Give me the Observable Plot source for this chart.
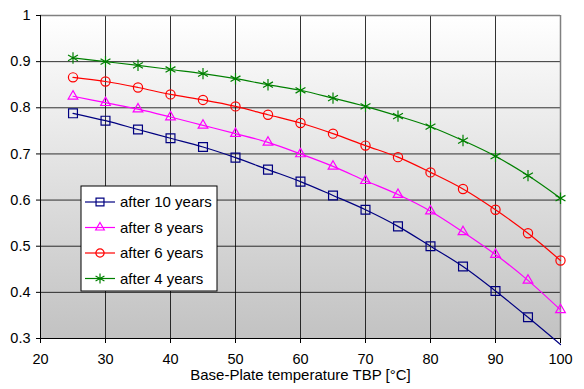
<!DOCTYPE html>
<html><head><meta charset="utf-8">
<script src="https://cdn.jsdelivr.net/npm/d3@7"></script>
<script src="https://cdn.jsdelivr.net/npm/@observablehq/plot@0.6"></script>
<style>body{margin:0;background:#fff;} #chart{position:relative;width:584px;height:389px;}</style>
</head><body><div id="chart"></div>
<script>
const temps = [25,30,35,40,45,50,55,60,65,70,75,80,85,90,95,100];
const y10 = [0.788,0.772,0.753,0.734,0.715,0.692,0.666,0.640,0.610,0.579,0.543,0.500,0.456,0.403,0.346,0.287];
const y8  = [0.825,0.811,0.797,0.780,0.762,0.744,0.725,0.700,0.673,0.642,0.612,0.576,0.531,0.482,0.426,0.362];
const y6  = [0.866,0.857,0.844,0.829,0.817,0.803,0.785,0.767,0.744,0.718,0.693,0.660,0.624,0.579,0.528,0.469];
const y4  = [0.908,0.900,0.892,0.883,0.874,0.863,0.850,0.838,0.821,0.803,0.782,0.759,0.729,0.695,0.653,0.604];
const seriesNames = ["after 10 years","after 8 years","after 6 years","after 4 years"];
const xTicks = [20,30,40,50,60,70,80,90,100];
const yTicks = [0.3,0.4,0.5,0.6,0.7,0.8,0.9,1];
const xTitle = "Base-Plate temperature TBP [°C]";

const seriesValues = [y10, y8, y6, y4];
const colors = ["#000080","#ff00ff","#ff0000","#008000"];
const symbols = ["square","triangle","circle","asterisk"];
const radii = [5, 3.6, 4.6, 5.4];
const d3Symbols = {square: d3.symbolSquare, triangle: d3.symbolTriangle, circle: d3.symbolCircle, asterisk: d3.symbolAsterisk};

const FONT = "'Liberation Sans', Arial, sans-serif";

const marks = [
  Plot.frame({fill: "#dddddd", stroke: "none"}),
  Plot.ruleX(xTicks.slice(1, -1), {stroke: "#000", strokeOpacity: 0.8, strokeWidth: 1}),
  Plot.ruleY(yTicks.slice(1, -1), {stroke: "#000", strokeOpacity: 0.8, strokeWidth: 1}),
  Plot.ruleY([1], {stroke: "#808080", strokeWidth: 1.5}),
  Plot.ruleX([100], {stroke: "#808080", strokeWidth: 1.5}),
  Plot.ruleX([20], {stroke: "#000"}),
  Plot.ruleY([0.3], {stroke: "#000"}),
  Plot.axisX(xTicks, {tickSize: 5, tickPadding: 10, fontSize: 14.5, label: null, stroke: "#000", fill: "#000"}),
  Plot.axisY(yTicks, {tickSize: 4, tickPadding: 6, fontSize: 14.5, label: null, tickFormat: d => String(d), stroke: "#000", fill: "#000"}),
  Plot.text([xTitle], {frameAnchor: "bottom", dy: 41, fontSize: 15, fill: "#000"})
];

seriesValues.forEach((vals, k) => {
  const rows = temps.map((t, i) => ({t, v: vals[i]}));
  marks.push(Plot.line(rows, {x: "t", y: "v", stroke: colors[k], strokeWidth: 1.2, curve: "catmull-rom"}));
  marks.push(Plot.dot(rows.filter(d => d.v >= 0.3), {x: "t", y: "v", stroke: colors[k], strokeWidth: 1.2, fill: "none", symbol: symbols[k], r: radii[k]}));
});

const chart = Plot.plot({
  width: 584,
  height: 389,
  marginLeft: 40,
  marginRight: 24,
  marginTop: 15,
  marginBottom: 51,
  style: {fontFamily: FONT, fontSize: "14px", background: "#fff", color: "#000"},
  x: {domain: [20, 100]},
  y: {domain: [0.3, 1]},
  marks
});

const svg = d3.select(chart);
const defs = svg.insert("defs", ":first-child");
const grad = defs.append("linearGradient").attr("id", "bggrad").attr("x1", 0).attr("y1", 0).attr("x2", 0).attr("y2", 1);
grad.append("stop").attr("offset", "0%").attr("stop-color", "#ffffff");
grad.append("stop").attr("offset", "100%").attr("stop-color", "#c2c2c2");
svg.selectAll('[aria-label="frame"], [aria-label="frame"] rect').attr("fill", "url(#bggrad)");

// Legend
const lg = svg.append("g").attr("font-family", FONT).attr("font-size", 15).attr("text-anchor", "start");
lg.append("rect").attr("x", 81).attr("y", 186).attr("width", 136).attr("height", 105)
  .attr("fill", "#fff").attr("stroke", "#000");
const rowY = [202, 227.5, 253, 278.5];
seriesNames.forEach((name, k) => {
  const y = rowY[k];
  lg.append("line").attr("x1", 85).attr("x2", 115).attr("y1", y).attr("y2", y)
    .attr("stroke", colors[k]).attr("stroke-width", 1.2);
  lg.append("path").attr("transform", `translate(100,${y})`)
    .attr("d", d3.symbol(d3Symbols[symbols[k]], Math.PI * radii[k] * radii[k] * 0.8)())
    .attr("fill", "none").attr("stroke", colors[k]).attr("stroke-width", 1.2);
  lg.append("text").attr("x", 120).attr("y", y).attr("dy", "0.35em").attr("text-anchor", "start").attr("fill", "#000").text(name);
});

document.getElementById("chart").appendChild(chart);
</script>
</body></html>
